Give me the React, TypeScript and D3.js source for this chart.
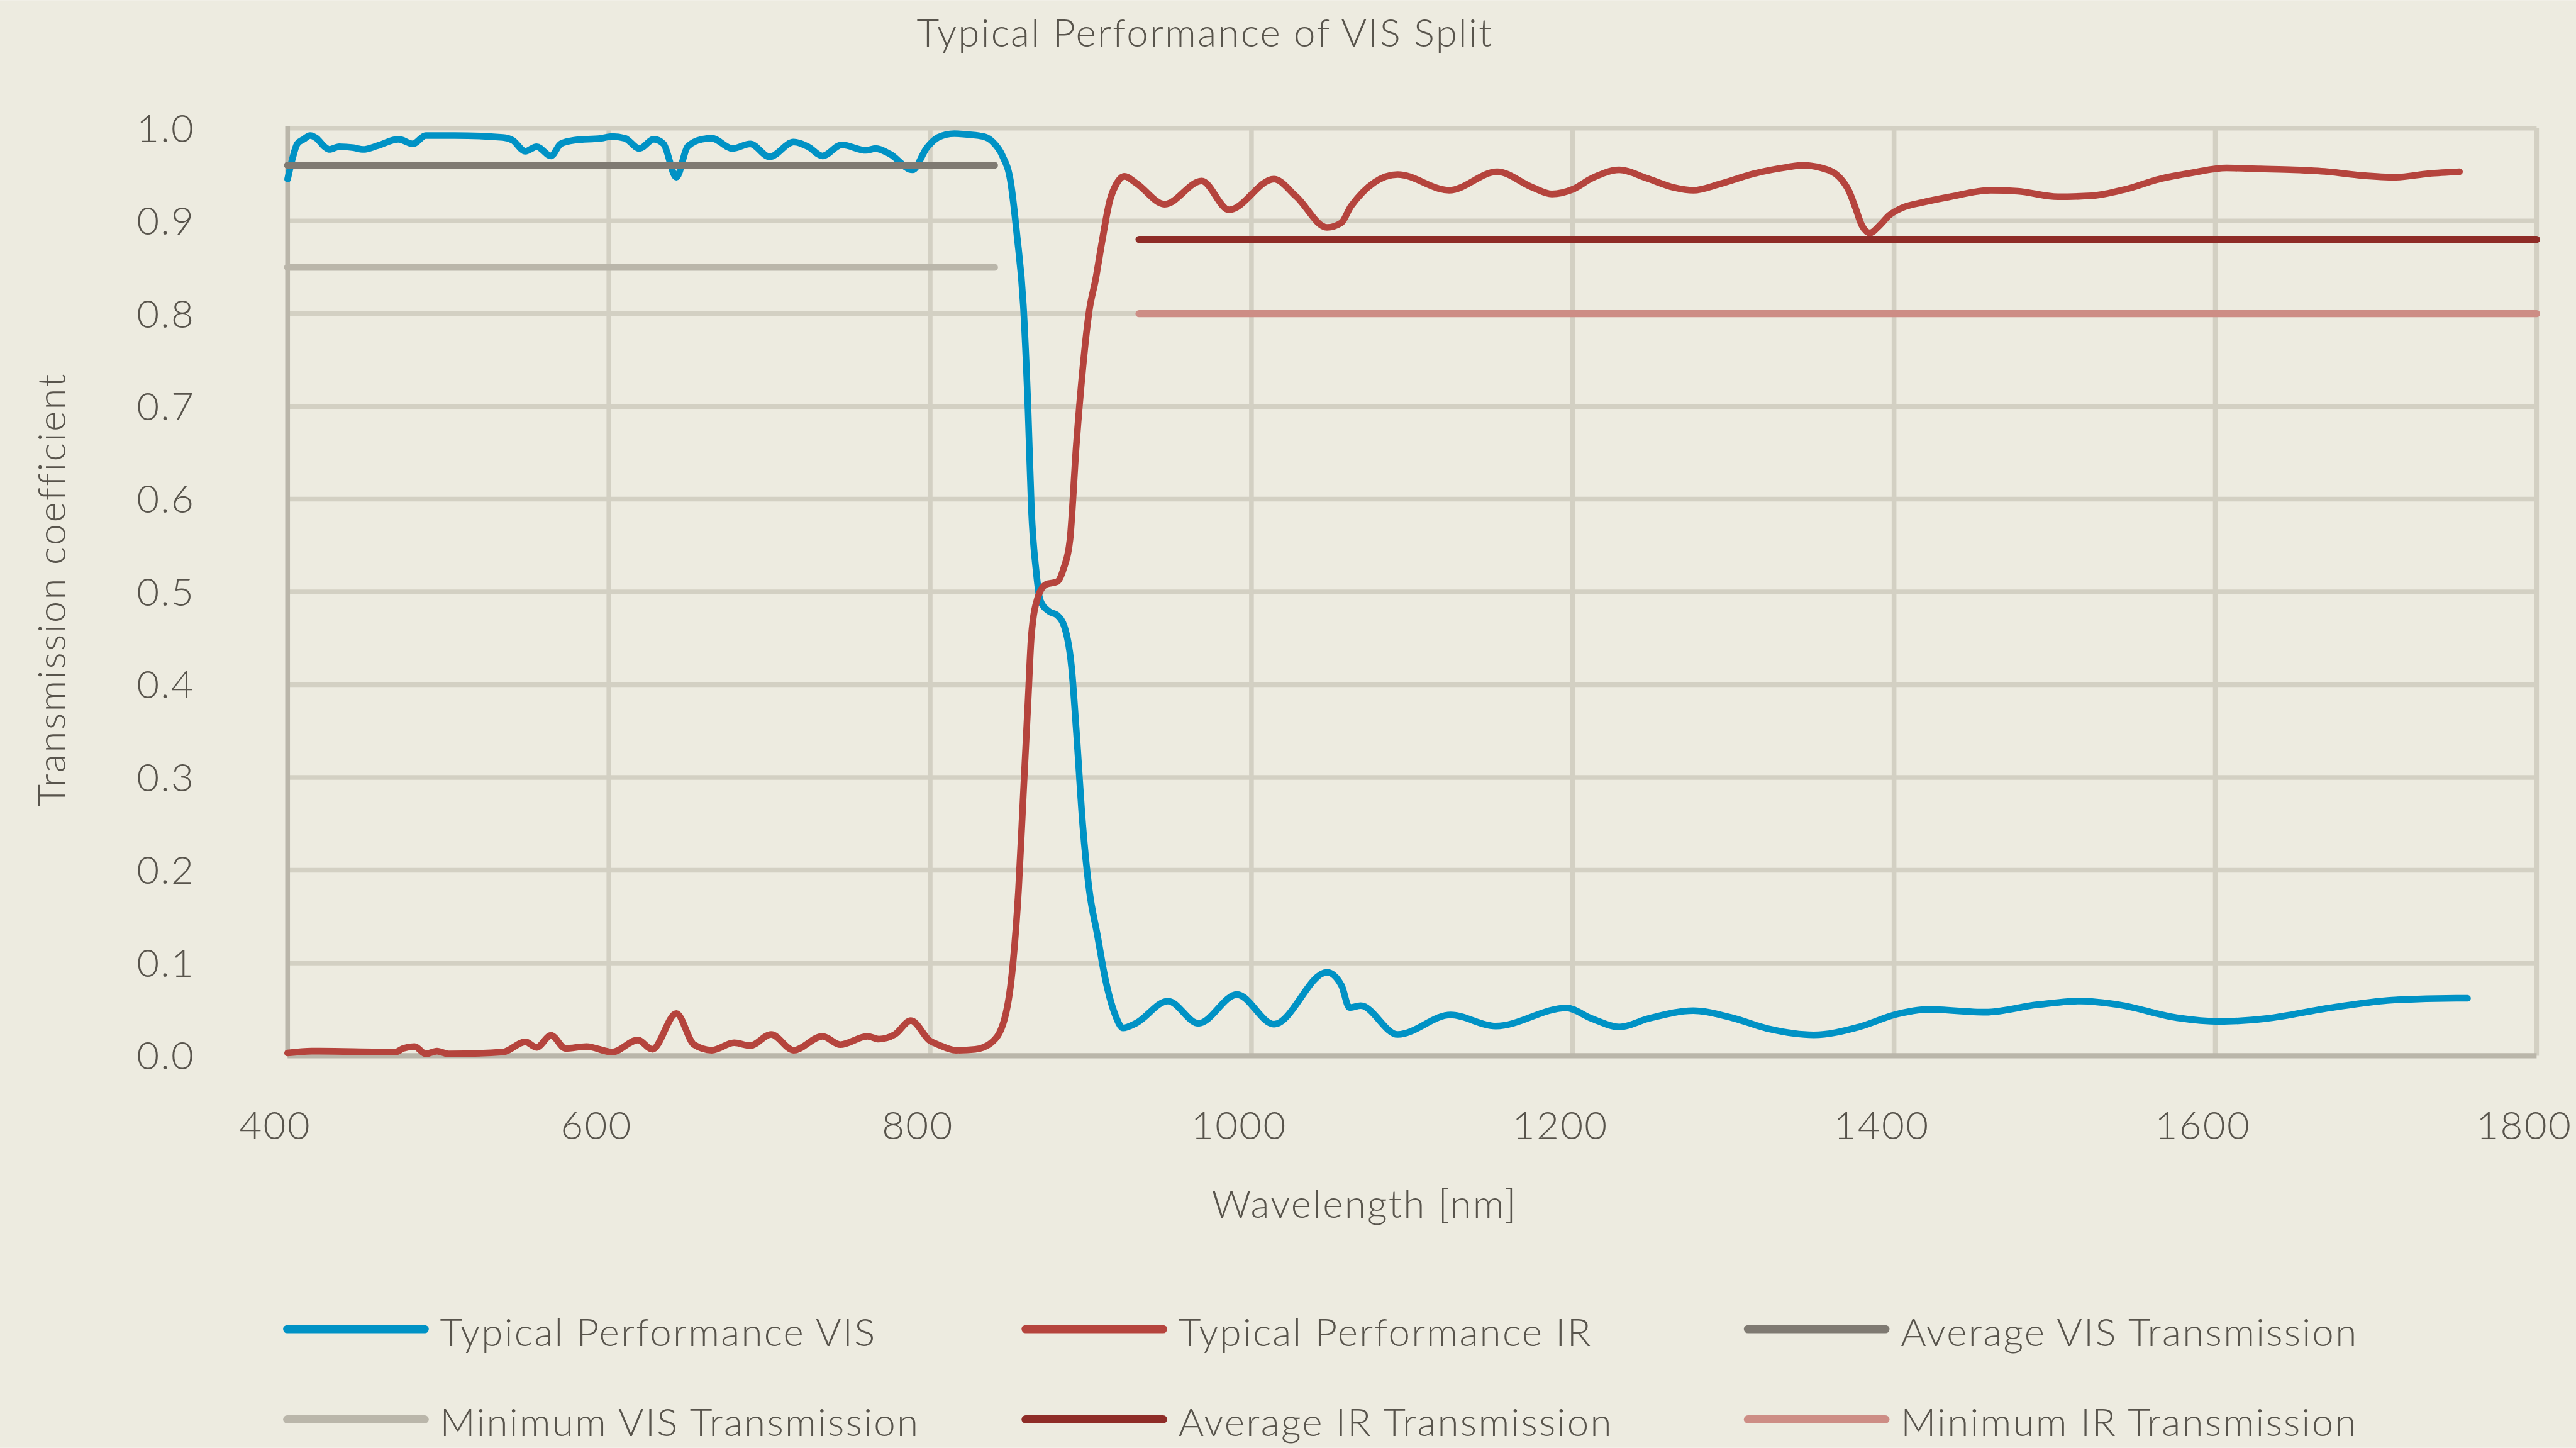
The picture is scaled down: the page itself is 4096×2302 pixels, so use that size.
import * as d3 from "d3";
import React from "react";

// measured spectra (nm -> transmission)
const visWavelength = [
  400, 403, 406, 410, 414, 418, 423, 426, 432, 441, 447, 456, 469, 478, 486, 504, 534, 540, 548, 555,
  564, 570, 579, 595, 602, 610, 619, 628, 634, 642, 649, 658, 664, 677, 688, 700, 715, 724, 733, 745,
  760, 766, 775, 789, 798, 805, 815, 824, 833, 839, 845, 850, 854, 858, 861, 863, 866, 868.5, 874, 879,
  884, 888, 891, 895, 899, 904, 909, 915, 920, 928, 948, 967, 991, 1014, 1047, 1056, 1061, 1068, 1091, 1124,
  1152, 1196, 1212, 1229, 1247, 1275, 1299, 1322, 1350, 1378, 1402, 1421, 1457, 1489, 1516, 1540, 1576, 1603, 1631, 1671,
  1710, 1750, 1757,
];
const visValue = [
  0.945, 0.967, 0.983, 0.988, 0.992, 0.989, 0.98, 0.977, 0.98, 0.979, 0.977, 0.981, 0.988, 0.983, 0.992, 0.992, 0.99, 0.987, 0.975, 0.98,
  0.97, 0.983, 0.987, 0.989, 0.991, 0.989, 0.978, 0.988, 0.983, 0.947, 0.98, 0.988, 0.989, 0.978, 0.983, 0.969, 0.985, 0.98, 0.97, 0.982,
  0.976, 0.978, 0.972, 0.955, 0.979, 0.99, 0.994, 0.993, 0.991, 0.985, 0.97, 0.943, 0.885, 0.809, 0.693, 0.59, 0.522, 0.491, 0.479, 0.475,
  0.46, 0.419, 0.35, 0.248, 0.179, 0.131, 0.083, 0.045, 0.03, 0.035, 0.059, 0.035, 0.066, 0.034, 0.09, 0.076, 0.052, 0.054, 0.023, 0.044,
  0.032, 0.0515, 0.04, 0.031, 0.04, 0.0486, 0.041, 0.029, 0.0225, 0.031, 0.045, 0.05, 0.047, 0.055, 0.059, 0.055, 0.041, 0.037, 0.04, 0.0515,
  0.06, 0.062, 0.062,
];
const irWavelength = [
  400, 415, 467, 472, 479, 486, 493, 500, 534, 548, 555, 564, 573, 586, 602, 618, 627, 642, 653, 664,
  678, 688, 701, 715, 733, 744, 761, 768, 778, 788, 800, 805, 816, 828, 838, 846, 851, 855, 858, 861,
  863, 867, 872, 879, 883, 887, 891, 895, 899, 903, 907, 912, 916, 921, 928, 946, 969, 986, 1014, 1028,
  1047, 1056, 1062, 1091, 1123, 1153, 1175, 1187, 1200, 1212, 1229, 1246, 1263, 1275, 1292, 1313, 1334, 1343, 1355, 1366,
  1372, 1376, 1380, 1385, 1391, 1397, 1405, 1418, 1435, 1460, 1477, 1502, 1523, 1544, 1565, 1586, 1607, 1628, 1649, 1670,
  1691, 1712, 1733, 1752,
];
const irValue = [
  0.003, 0.005, 0.004, 0.008, 0.01, 0.002, 0.005, 0.002, 0.004, 0.015, 0.009, 0.022, 0.008, 0.01, 0.004, 0.017, 0.007, 0.0455, 0.012, 0.006,
  0.014, 0.011, 0.023, 0.006, 0.021, 0.012, 0.021, 0.018, 0.023, 0.038, 0.016, 0.012, 0.006, 0.007, 0.014, 0.038, 0.09, 0.179, 0.282, 0.385,
  0.453, 0.494, 0.508, 0.511, 0.525, 0.556, 0.659, 0.741, 0.803, 0.837, 0.878, 0.923, 0.94, 0.948, 0.941, 0.918, 0.943, 0.912, 0.945, 0.926,
  0.893, 0.898, 0.916, 0.95, 0.933, 0.953, 0.936, 0.929, 0.934, 0.946, 0.955, 0.946, 0.936, 0.933, 0.94, 0.951, 0.958, 0.96, 0.957, 0.947,
  0.932, 0.914, 0.895, 0.887, 0.895, 0.906, 0.914, 0.92, 0.926, 0.933, 0.932, 0.926, 0.927, 0.934, 0.945, 0.952, 0.957, 0.956, 0.955, 0.953,
  0.949, 0.947, 0.951, 0.953,
];

// reference levels
const refNames = ["Average VIS Transmission", "Minimum VIS Transmission", "Average IR Transmission", "Minimum IR Transmission"];
const refValues = [0.96, 0.85, 0.88, 0.8];
const refStart = [400, 400, 930, 930];
const refEnd = [840, 840, 1800, 1800];

const legendNames = [
  "Typical Performance VIS",
  "Typical Performance IR",
  "Average VIS Transmission",
  "Minimum VIS Transmission",
  "Average IR Transmission",
  "Minimum IR Transmission",
];
const legendColors = ["#0092c5", "#b5443d", "#7f7a72", "#bab6aa", "#8e2c27", "#cd8d85"];

const xTicks = [400, 600, 800, 1000, 1200, 1400, 1600, 1800];
const yTicks = [0, 0.1, 0.2, 0.3, 0.4, 0.5, 0.6, 0.7, 0.8, 0.9, 1.0];

const W = 5428;
const H = 3050;
const FONT = "Lato, 'Open Sans', sans-serif";
const TEXT = "#58544c";

const App: React.FC = (): React.ReactElement => {
  const ref = React.useRef<SVGSVGElement>(null);

  React.useEffect(() => {
    document.body.style.margin = "0";
    const svg = d3.select(ref.current);
    svg.selectAll("*").remove();

    svg.append("rect").attr("width", W).attr("height", H).attr("fill", "#edebe0");

    const x = d3.scaleLinear().domain([400, 1800]).range([606, 5345]);
    const y = d3.scaleLinear().domain([0, 1]).range([2224, 269.6]);

    // grid
    const grid = svg.append("g").attr("stroke", "#d3d0c3").attr("stroke-width", 10);
    grid
      .selectAll("line.h")
      .data(yTicks.slice(1))
      .enter()
      .append("line")
      .attr("x1", x(400))
      .attr("x2", x(1800))
      .attr("y1", (d) => y(d))
      .attr("y2", (d) => y(d));
    grid
      .selectAll("line.v")
      .data(xTicks.slice(1))
      .enter()
      .append("line")
      .attr("x1", (d) => x(d))
      .attr("x2", (d) => x(d))
      .attr("y1", y(1))
      .attr("y2", y(0));

    // axes
    svg
      .append("line")
      .attr("x1", x(400))
      .attr("x2", x(400))
      .attr("y1", y(1) - 4)
      .attr("y2", y(0))
      .attr("stroke", "#bab6aa")
      .attr("stroke-width", 10);
    svg
      .append("line")
      .attr("x1", x(400))
      .attr("x2", x(1800))
      .attr("y1", y(0))
      .attr("y2", y(0))
      .attr("stroke", "#bab6aa")
      .attr("stroke-width", 11);

    // tick labels
    svg
      .append("g")
      .selectAll("text")
      .data(yTicks)
      .enter()
      .append("text")
      .attr("x", 411)
      .attr("y", (d) => y(d) + 29)
      .attr("text-anchor", "end")
      .text((d) => d.toFixed(1));
    svg
      .append("g")
      .selectAll("text")
      .data(xTicks)
      .enter()
      .append("text")
      .attr("x", (d) => x(d) - 26)
      .attr("y", 2399)
      .attr("text-anchor", "middle")
      .text((d) => String(d));

    // series
    const line = d3
      .line<[number, number]>()
      .x((d) => x(d[0]))
      .y((d) => y(d[1]))
      .curve(d3.curveMonotoneX);
    const vis = visWavelength.map((w, i) => [w, visValue[i]] as [number, number]);
    const ir = irWavelength.map((w, i) => [w, irValue[i]] as [number, number]);
    [vis, ir].forEach((pts, i) => {
      svg
        .append("path")
        .attr("d", line(pts))
        .attr("fill", "none")
        .attr("stroke", legendColors[i])
        .attr("stroke-width", 14)
        .attr("stroke-linejoin", "round")
        .attr("stroke-linecap", "round");
    });

    // reference levels
    refValues.forEach((v, i) => {
      svg
        .append("line")
        .attr("x1", x(refStart[i]))
        .attr("x2", x(refEnd[i]))
        .attr("y1", y(v))
        .attr("y2", y(v))
        .attr("stroke", legendColors[i + 2])
        .attr("stroke-width", 15)
        .attr("stroke-linecap", "round");
    });

    // titles
    svg.append("text").attr("x", 2539).attr("y", 98).attr("text-anchor", "middle").text("Typical Performance of VIS Split");
    svg.append("text").attr("x", 2875).attr("y", 2565).attr("text-anchor", "middle").text("Wavelength [nm]");
    svg
      .append("text")
      .attr("transform", "translate(138,1242) rotate(-90)")
      .attr("text-anchor", "middle")
      .text("Transmission coefficient");

    // legend
    const colX = [605, 2161, 3683];
    const rowY = [2800, 2990];
    legendNames.forEach((name, i) => {
      const cx = colX[i % 3];
      const ry = rowY[Math.floor(i / 3)];
      svg
        .append("line")
        .attr("x1", cx)
        .attr("x2", cx + 290)
        .attr("y1", ry)
        .attr("y2", ry)
        .attr("stroke", legendColors[i])
        .attr("stroke-width", 17)
        .attr("stroke-linecap", "round");
      svg
        .append("text")
        .attr("x", cx + 322)
        .attr("y", ry + 35)
        .text(name);
    });

    svg
      .selectAll("text")
      .attr("font-family", FONT)
      .attr("font-weight", 300)
      .attr("font-size", 82)
      .attr("letter-spacing", 3)
      .attr("fill", TEXT);
  }, []);

  return (
    <svg
      ref={ref}
      width={4096}
      height={2302}
      viewBox={`0 0 ${W} ${H}`}
      style={{ display: "block" }}
    />
  );
};

export default App;
